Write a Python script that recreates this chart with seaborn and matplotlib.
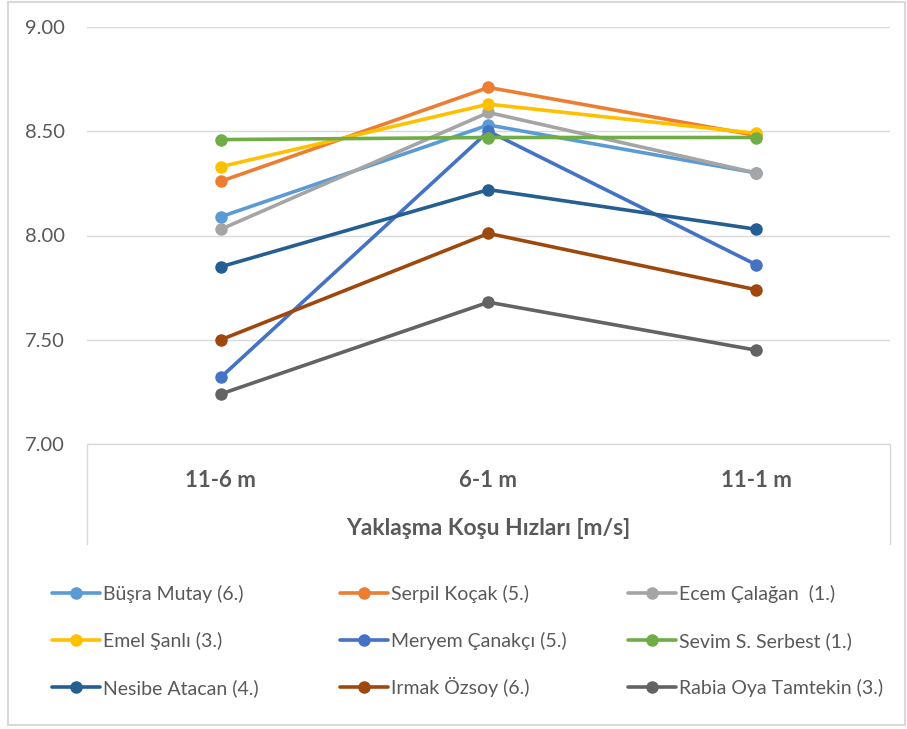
import matplotlib
matplotlib.use("Agg")
import matplotlib.pyplot as plt
from matplotlib.patches import Rectangle
from matplotlib.lines import Line2D
import seaborn as sns
import pandas as pd

categories = ["11-6 m", "6-1 m", "11-1 m"]
athletes = ["Büşra Mutay (6.)", "Serpil Koçak (5.)", "Ecem Çalağan  (1.)",
            "Emel Şanlı (3.)", "Meryem Çanakçı (5.)", "Sevim S. Serbest (1.)",
            "Nesibe Atacan (4.)", "Irmak Özsoy (6.)", "Rabia Oya Tamtekin (3.)"]
busra = [8.09, 8.53, 8.30]
serpil = [8.26, 8.71, 8.48]
ecem = [8.03, 8.59, 8.30]
emel = [8.33, 8.63, 8.49]
meryem = [7.32, 8.50, 7.86]
sevim = [8.46, 8.47, 8.47]
nesibe = [7.85, 8.22, 8.03]
irmak = [7.50, 8.01, 7.74]
rabia = [7.24, 7.68, 7.45]
series = [busra, serpil, ecem, emel, meryem, sevim, nesibe, irmak, rabia]
colors = ["#5B9BD5", "#ED7D31", "#A5A5A5", "#FFC000", "#4472C4",
          "#70AD47", "#255E91", "#9E480E", "#636363"]
yticks = [7.00, 7.50, 8.00, 8.50, 9.00]
x_title = "Yaklaşma Koşu Hızları [m/s]"

rows = []
for name, vals in zip(athletes, series):
    for c, v in zip(categories, vals):
        rows.append({"cat": c, "val": v, "athlete": name})
df = pd.DataFrame(rows)

sns.set_style("white")
plt.rcParams['font.family'] = ['Lato', 'DejaVu Sans']
txt = "#595959"
grid = "#D9D9D9"

fig = plt.figure(figsize=(9.07, 7.29), dpi=100)
W, H = 907, 729
ax = fig.add_axes([87 / W, 1 - 444 / H, (890 - 87) / W, (444 - 27) / H])

sns.lineplot(data=df, x="cat", y="val", hue="athlete", hue_order=athletes,
             palette=colors, marker="o", markersize=9, markeredgewidth=0,
             linewidth=2.6, sort=False, ax=ax, legend=False)

ax.set_xlim(-0.5, 2.5)
ax.set_ylim(7.0, 9.0)
ax.set_yticks(yticks)
ax.set_yticklabels([f"{t:.2f}" for t in yticks])
ax.grid(axis="y", color=grid, linewidth=1)
ax.set_axisbelow(True)
for s in ax.spines.values():
    s.set_visible(False)
ax.tick_params(axis="y", length=0, pad=16, labelsize=14.5, labelcolor=txt)
ax.tick_params(axis="x", length=0, pad=19, labelsize=16, labelcolor=txt)
for lab in ax.get_xticklabels():
    lab.set_fontweight("bold")
ax.set_xlabel(x_title, fontsize=16.5, fontweight="bold", color=txt, labelpad=19)
ax.set_ylabel("")

# box lines under category axis
for xa in (0, 1):
    ax.add_line(Line2D([xa, xa], [0, -100 / 417], transform=ax.transAxes,
                       color=grid, linewidth=1, clip_on=False))
ax.add_line(Line2D([0, 1], [0, 0], transform=ax.transAxes,
                   color=grid, linewidth=1, clip_on=False))

# legend: 3x3 grid of entries, row-major like the original
handles = [Line2D([0], [0], color=c, linewidth=2.6, marker="o", markersize=9,
                  markeredgewidth=0) for c in colors]
col_x = [52, 340, 628]
row_y = [603, 650, 697]
for i, (h, lab) in enumerate(zip(handles, athletes)):
    r, c = divmod(i, 3)
    fig.legend([h], [lab], loc="lower left",
               bbox_to_anchor=(col_x[c] / W, 1 - row_y[r] / H),
               frameon=False, fontsize=14, labelcolor=txt,
               handlelength=2.45, handletextpad=0.15,
               borderaxespad=0, borderpad=0)

fig.patches.append(Rectangle((8 / W, 1 - 725 / H), (905 - 8) / W, (725 - 2) / H,
                             transform=fig.transFigure, fill=False,
                             edgecolor=grid, linewidth=1.5))

fig.savefig("out.png", dpi=100)
